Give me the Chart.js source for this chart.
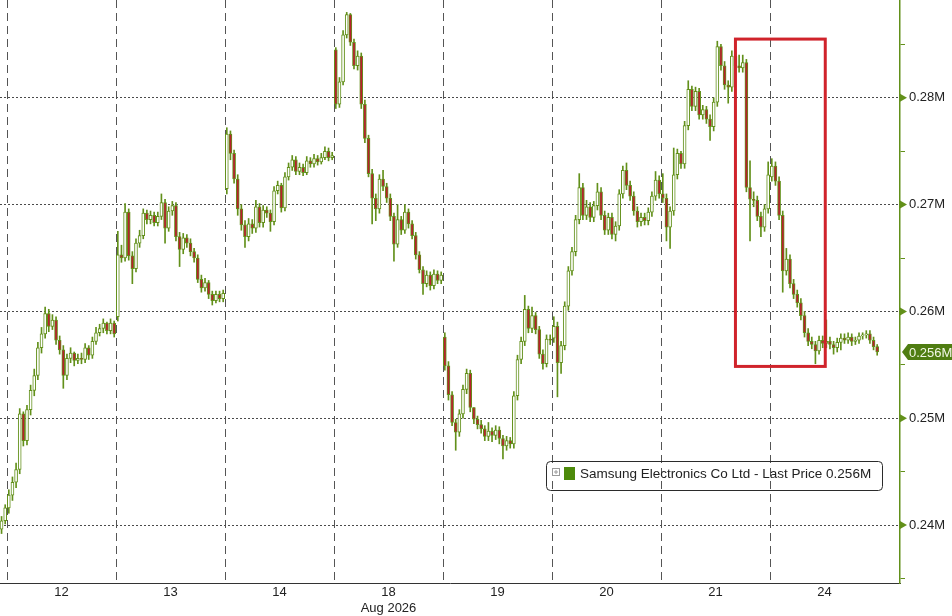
<!DOCTYPE html>
<html>
<head>
<meta charset="utf-8">
<script src="https://cdn.jsdelivr.net/npm/chart.js@4/dist/chart.umd.min.js"></script>
<style>
  html, body { margin: 0; padding: 0; background: #fff; }
  #wrap { width: 952px; height: 616px; }
</style>
</head>
<body>
<div id="wrap"><canvas id="chart" width="952" height="616"></canvas></div>
<script>
// Samsung Electronics intraday candles, prices in KRW thousands (axis shows millions)
const dayLabels = ['12', '13', '14', '18', '19', '20', '21', '24'];
const monthLabel = 'Aug 2026';
const seriesName = 'Samsung Electronics Co Ltd - Last Price';

// last two bars of the 11th, left of the first day line
const tailOpen = 239.6;
const tailCloses = [240.4, 241.6];
const tailHighs = [240.8, 241.9];
const tailLows = [239.2, 240.1];

// opening price of the first bar of each day
const dayOpens = [241.6, 259.5, 271.5, 284.5, 257.6, 257.5, 271.0, 272.6];

const closes = [
  [242.8, 244.0, 245.2, 250.4, 247.9, 250.8, 252.6, 254.0, 256.6, 257.9, 259.8, 258.6, 259.2, 257.3, 256.4, 254.0, 255.6, 256.1, 255.4, 255.6, 255.5, 256.6, 255.9, 257.2, 258.0, 258.4, 258.9, 258.2, 258.9, 257.9],
  [265.3, 265.0, 269.3, 265.2, 264.0, 266.4, 267.1, 269.2, 268.6, 269.0, 268.3, 268.9, 270.2, 267.8, 269.4, 269.9, 267.0, 265.8, 266.9, 266.4, 265.6, 265.0, 263.0, 262.2, 262.7, 261.6, 261.0, 261.6, 261.2, 261.7],
  [276.6, 274.8, 272.4, 269.6, 268.1, 267.0, 268.2, 267.8, 269.8, 268.3, 269.5, 269.2, 268.4, 271.3, 271.8, 269.7, 272.6, 273.5, 274.2, 273.1, 273.5, 273.0, 274.1, 273.8, 274.3, 274.0, 274.4, 275.0, 274.4, 274.6],
  [279.4, 281.5, 285.9, 287.8, 285.2, 283.0, 283.9, 279.4, 276.2, 272.9, 270.6, 269.6, 272.4, 271.7, 270.6, 268.9, 266.3, 268.6, 267.6, 269.3, 268.2, 267.1, 265.3, 263.9, 262.6, 263.4, 262.4, 263.5, 262.9, 263.4],
  [254.9, 252.2, 249.6, 248.7, 250.4, 252.7, 254.2, 251.0, 249.9, 249.4, 249.0, 248.3, 248.8, 248.4, 248.9, 248.1, 247.4, 247.9, 247.6, 252.1, 255.5, 257.2, 260.2, 258.4, 259.6, 258.3, 256.0, 255.1, 257.4, 257.3],
  [258.6, 255.2, 256.8, 260.5, 263.8, 265.6, 268.6, 271.6, 269.0, 269.8, 268.8, 269.9, 271.2, 269.0, 267.6, 268.8, 267.2, 268.0, 271.0, 273.2, 271.8, 270.8, 269.4, 268.4, 268.8, 268.5, 269.3, 270.8, 272.3, 271.0],
  [270.6, 267.9, 269.4, 272.8, 274.8, 273.8, 277.4, 280.8, 279.2, 280.6, 278.4, 278.9, 278.0, 277.3, 279.6, 284.8, 283.0, 281.2, 281.0, 283.9, 283.0, 282.8, 283.3, 271.6, 270.5, 270.4, 268.9, 267.9, 269.6, 272.8],
  [273.6, 272.2, 269.0, 263.8, 264.9, 262.6, 261.6, 260.8, 259.6, 258.0, 257.2, 256.9, 256.3, 257.3, 257.0, 257.2, 256.9, 256.6, 257.1, 257.5, 257.3, 257.6, 257.2, 257.3, 257.7, 257.8, 257.9, 257.3, 256.7, 256.2]
];

const highs = [
  [243.3, 244.5, 245.8, 250.9, 250.6, 251.2, 253.1, 254.6, 257.1, 258.5, 260.4, 260.2, 259.7, 259.5, 257.7, 256.8, 256.0, 256.6, 256.2, 256.0, 256.1, 257.0, 256.8, 257.6, 258.5, 258.8, 259.3, 259.0, 259.3, 259.1],
  [267.5, 266.2, 270.1, 269.6, 265.6, 266.8, 267.6, 269.6, 269.5, 269.4, 269.3, 269.3, 271.0, 270.5, 269.8, 270.3, 270.2, 267.4, 267.3, 267.2, 266.8, 265.9, 265.3, 263.4, 263.1, 262.9, 261.9, 261.9, 261.9, 262.0],
  [277.2, 276.9, 275.1, 272.8, 270.0, 268.5, 268.7, 268.6, 270.4, 270.1, 269.9, 269.8, 269.5, 271.7, 272.2, 272.0, 273.0, 273.9, 274.6, 274.5, 273.9, 273.8, 274.5, 274.4, 274.7, 274.6, 274.8, 275.4, 275.3, 274.9],
  [284.7, 281.9, 286.3, 288.0, 287.9, 285.5, 284.4, 284.2, 279.8, 276.5, 273.3, 271.0, 272.8, 273.2, 272.0, 271.0, 269.2, 270.0, 268.9, 270.0, 269.6, 268.5, 267.4, 265.6, 264.2, 263.8, 263.7, 263.9, 263.8, 263.7],
  [258.0, 255.3, 252.5, 249.9, 250.8, 253.1, 254.6, 254.5, 250.9, 250.2, 249.8, 249.3, 249.6, 249.1, 249.3, 249.2, 248.4, 248.3, 248.2, 252.5, 255.9, 257.6, 261.5, 260.5, 260.4, 259.9, 258.6, 256.4, 257.8, 257.8],
  [259.5, 259.0, 257.2, 260.9, 264.2, 266.0, 269.0, 272.9, 272.0, 270.4, 270.2, 270.3, 272.0, 271.6, 269.4, 269.2, 269.2, 268.4, 271.4, 273.6, 273.9, 272.2, 271.2, 269.8, 269.2, 269.2, 269.7, 271.2, 273.1, 272.7],
  [272.9, 271.0, 269.8, 275.3, 275.2, 275.0, 277.8, 281.6, 281.1, 281.0, 280.9, 279.3, 279.2, 278.4, 280.0, 285.3, 285.0, 283.4, 281.6, 284.4, 284.2, 284.0, 284.0, 283.6, 274.1, 271.2, 270.8, 269.3, 270.0, 274.0],
  [274.3, 274.0, 272.6, 269.4, 265.9, 265.3, 263.0, 262.0, 261.2, 260.0, 258.4, 257.6, 257.2, 257.7, 257.7, 259.2, 257.6, 257.2, 257.5, 257.9, 257.9, 258.0, 257.9, 257.6, 258.0, 258.0, 258.2, 258.2, 257.6, 256.9]
];

const lows = [
  [241.1, 242.3, 243.5, 244.8, 247.4, 247.5, 250.3, 252.1, 253.6, 256.1, 257.5, 258.1, 258.3, 256.9, 256.0, 252.8, 253.6, 255.2, 254.9, 255.1, 255.1, 255.2, 255.5, 255.6, 256.9, 257.7, 258.0, 257.9, 257.9, 257.6],
  [259.1, 264.6, 264.7, 264.8, 262.6, 263.7, 266.0, 266.8, 268.2, 268.2, 268.0, 268.0, 268.6, 266.4, 267.5, 269.0, 266.6, 264.2, 265.4, 266.0, 265.2, 264.6, 262.7, 261.8, 261.9, 261.2, 260.6, 260.8, 260.9, 260.9],
  [271.0, 274.2, 272.0, 269.0, 267.6, 266.0, 266.6, 267.3, 267.4, 267.9, 267.9, 268.8, 267.5, 268.1, 271.0, 269.3, 269.4, 272.3, 273.2, 272.8, 272.8, 272.7, 272.8, 273.5, 273.5, 273.7, 273.8, 274.2, 274.1, 274.2],
  [279.0, 279.1, 281.2, 285.6, 284.9, 282.7, 282.6, 279.0, 275.8, 272.6, 268.2, 268.5, 269.2, 271.3, 270.2, 268.5, 264.7, 266.0, 267.2, 267.3, 267.8, 266.8, 264.9, 263.6, 261.6, 262.3, 262.0, 262.1, 262.6, 262.6],
  [254.5, 251.7, 249.3, 247.0, 248.3, 250.0, 252.3, 250.6, 249.5, 249.0, 248.6, 247.9, 247.9, 247.8, 248.0, 247.6, 246.2, 247.0, 247.2, 247.2, 251.7, 255.1, 256.8, 258.0, 258.0, 257.9, 255.6, 254.6, 254.8, 256.9],
  [257.1, 252.0, 254.2, 256.4, 260.1, 263.4, 265.2, 268.2, 268.6, 268.6, 268.4, 268.4, 269.5, 268.6, 267.2, 267.2, 266.8, 266.6, 267.6, 270.6, 271.4, 270.4, 269.0, 267.9, 268.0, 268.1, 268.1, 268.9, 270.4, 270.6],
  [270.2, 266.6, 265.9, 269.0, 272.4, 273.4, 273.4, 277.0, 278.8, 278.8, 278.0, 278.0, 277.6, 276.0, 276.9, 279.2, 282.6, 280.8, 279.5, 280.6, 282.6, 282.4, 282.4, 271.2, 266.6, 269.8, 268.5, 267.0, 267.5, 269.2],
  [272.2, 271.8, 268.6, 261.8, 263.4, 262.2, 261.2, 260.4, 259.2, 257.6, 256.8, 256.5, 255.1, 256.0, 256.6, 256.6, 256.5, 256.0, 256.2, 256.4, 257.0, 257.0, 256.8, 256.9, 257.0, 257.4, 257.5, 257.0, 256.4, 255.9]
];

const yTicks = [235, 240, 245, 250, 255, 260, 265, 270, 275, 280, 285];
// highlighted sell-off, x in days from the 12th, y in KRW thousands
const boxFrom = 6.683, boxTo = 7.507, boxHigh = 285.5, boxLow = 254.85;

const barsPerDay = 30;
const olive = '#62901a';
const red = '#b8202e';

// build candles
const wicks = [];
const bodies = [];
function addBar(x, o, h, l, c) {
  wicks.push({ x: x, y: [Math.min(l, o, c), Math.max(h, o, c)] });
  bodies.push({ x: x, y: [o, c] });
}
let prev = tailOpen;
tailCloses.forEach((c, i) => {
  addBar((i - tailCloses.length + 0.5) / barsPerDay, prev, tailHighs[i], tailLows[i], c);
  prev = c;
});
closes.forEach((day, d) => {
  let o = dayOpens[d];
  day.forEach((c, i) => {
    addBar(d + (i + 0.5) / barsPerDay, o, highs[d][i], lows[d][i], c);
    o = c;
  });
});
const lastClose = closes[closes.length - 1][closes[closes.length - 1].length - 1];
const lastText = (lastClose / 1000).toFixed(3) + 'M';

const xTicks = [];
for (let d = 0; d < dayLabels.length; d++) xTicks.push(d, d + 0.5);

const overlay = {
  id: 'overlay',
  afterDatasetsDraw(chart) {
    const { ctx, scales: { x, y } } = chart;
    const x0 = x.getPixelForValue(boxFrom);
    const x1 = x.getPixelForValue(boxTo);
    const y0 = y.getPixelForValue(boxHigh);
    const y1 = y.getPixelForValue(boxLow);
    ctx.save();
    ctx.strokeStyle = '#d0232b';
    ctx.lineWidth = 3;
    ctx.strokeRect(x0, y0, x1 - x0, y1 - y0);
    ctx.restore();
  },
  afterDraw(chart) {
    const { ctx, chartArea, scales: { y } } = chart;
    const ax = chartArea.right;
    ctx.save();
    // arrow markers on labelled ticks
    ctx.fillStyle = olive;
    yTicks.filter(v => v % 10 === 0).forEach(v => {
      const py = y.getPixelForValue(v);
      ctx.beginPath();
      ctx.moveTo(ax, py - 4);
      ctx.lineTo(ax + 7, py);
      ctx.lineTo(ax, py + 4);
      ctx.closePath();
      ctx.fill();
    });
    // last price tag
    const py = y.getPixelForValue(lastClose);
    ctx.fillStyle = '#4f7d12';
    ctx.beginPath();
    ctx.moveTo(ax + 2, py);
    ctx.lineTo(ax + 8, py - 8);
    ctx.lineTo(chart.width, py - 8);
    ctx.lineTo(chart.width, py + 8);
    ctx.lineTo(ax + 8, py + 8);
    ctx.closePath();
    ctx.fill();
    ctx.fillStyle = '#f2f7e6';
    ctx.font = '13px "Liberation Sans"';
    ctx.textBaseline = 'middle';
    ctx.fillText(lastText, ax + 9, py + 1);

    // legend box
    const lx = 546, ly = 461, lw = 336, lh = 29;
    ctx.strokeStyle = '#2b2b2b';
    ctx.lineWidth = 1;
    ctx.beginPath();
    ctx.roundRect(lx + 0.5, ly + 0.5, lw, lh, 4);
    ctx.stroke();
    ctx.strokeStyle = '#9a9a9a';
    ctx.strokeRect(lx + 6.5, ly + 7.5, 7, 7);
    ctx.beginPath();
    ctx.moveTo(lx + 8, ly + 11); ctx.lineTo(lx + 12, ly + 11);
    ctx.moveTo(lx + 10, ly + 9); ctx.lineTo(lx + 10, ly + 13);
    ctx.stroke();
    ctx.fillStyle = '#4d8a0b';
    ctx.fillRect(lx + 18, ly + 6, 11, 13);
    ctx.fillStyle = '#222';
    ctx.font = '13.5px "Liberation Sans"';
    ctx.textBaseline = 'middle';
    ctx.fillText(seriesName + ' ' + lastText, lx + 34, ly + 13);
    ctx.restore();
  }
};

const ctx = document.getElementById('chart').getContext('2d');
const chart = new Chart(ctx, {
  type: 'bar',
  data: {
    datasets: [
      {
        label: 'wick',
        data: wicks,
        backgroundColor: olive,
        barThickness: 1,
        grouped: false,
        order: 2
      },
      {
        label: 'body',
        data: bodies,
        backgroundColor: c => (c.raw && c.raw.y[1] < c.raw.y[0] ? red : '#ffffff'),
        borderColor: olive,
        borderWidth: 1,
        borderSkipped: false,
        barThickness: 3,
        minBarLength: 1,
        grouped: false,
        order: 1
      }
    ]
  },
  options: {
    responsive: false,
    devicePixelRatio: 1,
    animation: false,
    layout: { padding: 0 },
    plugins: { legend: { display: false }, tooltip: { enabled: false } },
    scales: {
      x: {
        type: 'linear',
        offset: false,
        min: -7 / 109,
        max: 893 / 109,
        afterBuildTicks: s => { s.ticks = xTicks.map(v => ({ value: v })); },
        afterFit: s => { s.height = 33; s.paddingLeft = 0; s.paddingRight = 0; },
        grid: {
          offset: false,
          drawTicks: false,
          color: c => (c.tick && Number.isInteger(c.tick.value) ? '#555' : 'rgba(0,0,0,0)'),
          lineWidth: 1
        },
        border: { display: true, color: '#333', width: 1, dash: [8, 5] },
        ticks: {
          autoSkip: false,
          maxRotation: 0,
          padding: 2,
          color: '#222',
          font: { family: 'Liberation Sans', size: 13 },
          callback: v => {
            if (Number.isInteger(v)) return '';
            const lab = dayLabels[Math.floor(v)];
            return lab === '18' ? [lab, monthLabel] : lab;
          }
        }
      },
      y: {
        position: 'right',
        min: 234.57,
        max: 289.16,
        afterBuildTicks: s => { s.ticks = yTicks.map(v => ({ value: v })); },
        afterFit: s => { s.width = 52; s.paddingTop = 0; s.paddingBottom = 0; },
        grid: {
          color: c => (c.tick && c.tick.value % 10 === 0 ? '#4a4a4a' : 'rgba(0,0,0,0)'),
          tickColor: olive,
          tickLength: 5,
          lineWidth: 1
        },
        border: { display: true, color: olive, width: 1.5, dash: [2, 2] },
        ticks: {
          padding: 4,
          color: '#222',
          font: { family: 'Liberation Sans', size: 13 },
          callback: v => (v % 10 === 0 ? (v / 1000).toFixed(2) + 'M' : '')
        }
      }
    }
  },
  plugins: [overlay]
});
</script>
</body>
</html>
